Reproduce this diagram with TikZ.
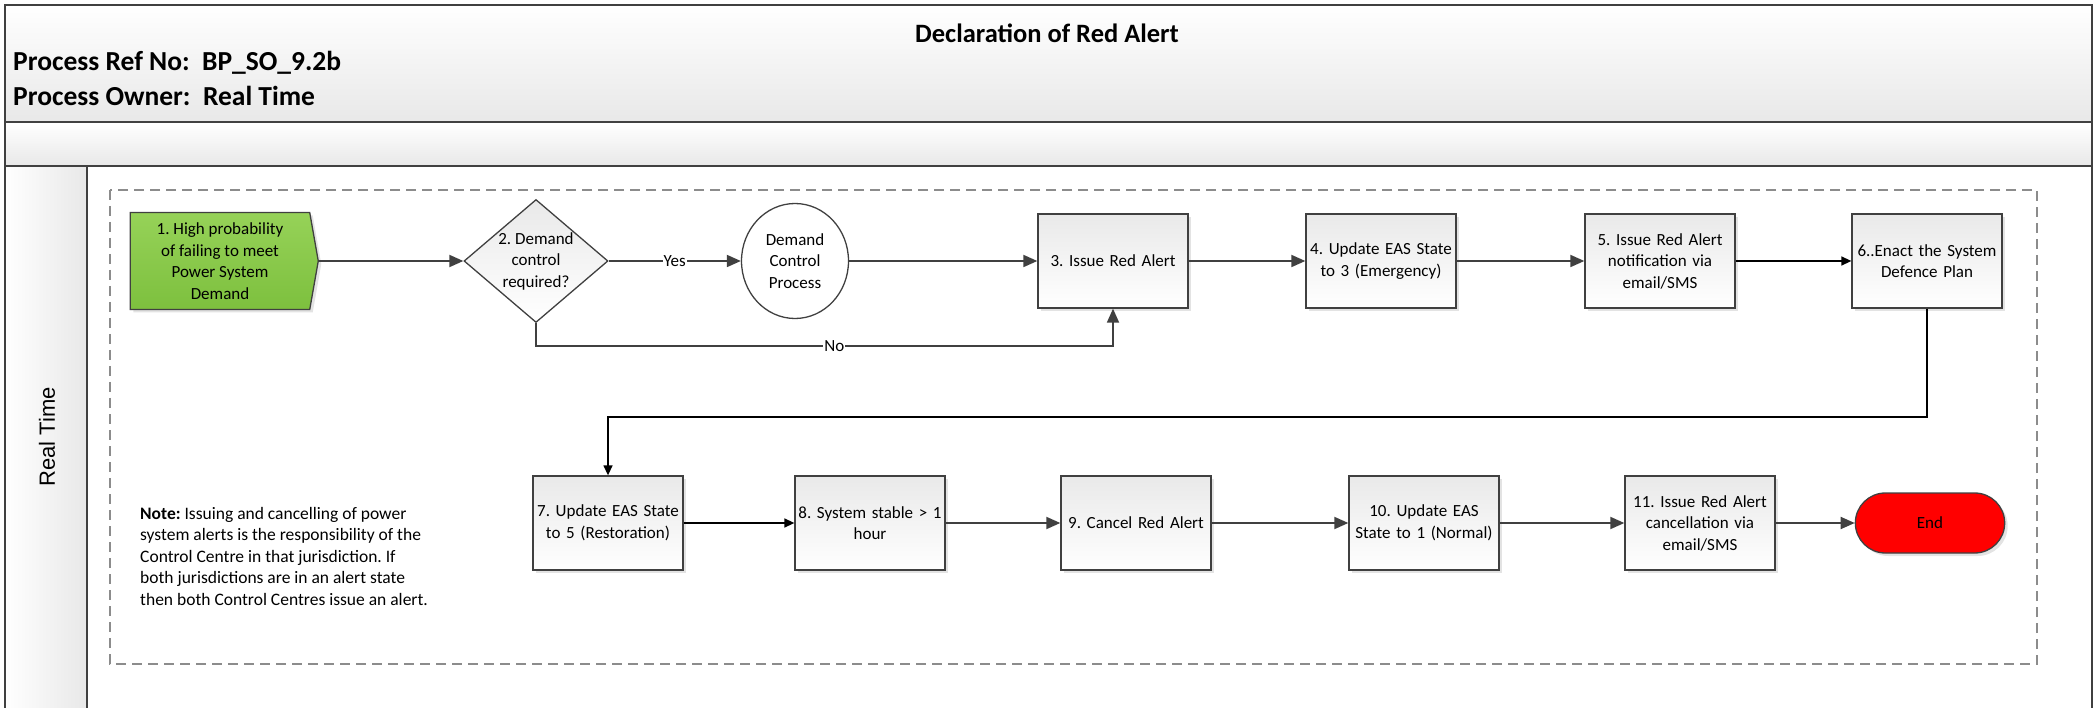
\documentclass[tikz,border=0pt]{standalone}
\usepackage{fontspec}
\setmainfont{Carlito}
\newfontfamily\arialfont{Liberation Sans}
\usetikzlibrary{shapes.geometric,shapes.symbols,shapes.misc,arrows.meta,shadows}
\definecolor{lineC}{HTML}{404040}
\definecolor{boxTop}{HTML}{E9E9E9}
\definecolor{greenTop}{HTML}{96D258}
\definecolor{greenBot}{HTML}{7DC03E}
\definecolor{dashC}{HTML}{8C8C8C}
\definecolor{endRed}{HTML}{FF0000}
\definecolor{hdrBot}{HTML}{E8E8E8}
\begin{document}
\frenchspacing
\begin{tikzpicture}[x=1pt,y=-1pt,
  every node/.style={font=\fontsize{17}{21.5}\selectfont},
  shad/.style={drop shadow={opacity=0.22,shadow xshift=3pt,shadow yshift=-3pt}},
  procbox/.style={rectangle,draw=lineC,line width=1.3pt,top color=boxTop,bottom color=white,
    minimum width=150pt,minimum height=94pt,text width=146pt,inner sep=2pt,align=center,shad},
  startbox/.style={signal,signal to=east,signal pointer angle=160,draw=lineC,line width=1.3pt,
    top color=greenTop,bottom color=greenBot,minimum width=188pt,minimum height=97pt,
    inner sep=2pt,align=center,shad},
  decbox/.style={diamond,aspect=1.17,draw=lineC,line width=1.3pt,top color=boxTop,bottom color=white,
    minimum width=144pt,minimum height=123pt,inner sep=0pt,align=center},
  subproc/.style={ellipse,draw=lineC,line width=1.3pt,fill=white,minimum width=107pt,
    minimum height=115pt,inner sep=0pt,align=center},
  endbox/.style={rounded rectangle,draw=lineC,line width=1.3pt,fill=endRed,minimum width=156pt,
    minimum height=60pt,shad},
  arr/.style={draw=lineC,line width=1.8pt,-{Triangle[length=14pt,width=12pt]}},
  arrb/.style={draw=black,line width=1.4pt,-{Triangle[length=10pt,width=9pt]}},
  lbl/.style={fill=white,inner sep=1pt},
  hdr/.style={font=\fontsize{27.5}{30}\selectfont\bfseries,anchor=west,inner sep=0pt}
]
\useasboundingbox (0,0) rectangle (2096,708);
% header and lane backgrounds
\fill[top color=white,bottom color=hdrBot] (5,5) rectangle (2092,122);
\fill[top color=white,bottom color=hdrBot] (5,122) rectangle (2092,166);
\fill[left color=white,right color=hdrBot] (5,166) rectangle (87,712);
\draw[lineC,line width=2pt] (5,712) -- (5,5) -- (2092,5) -- (2092,712);
\draw[lineC,line width=1.5pt] (5,122) -- (2092,122);
\draw[lineC,line width=1.5pt] (5,166) -- (2092,166);
\draw[lineC,line width=1.5pt] (87,166) -- (87,712);
\node[font=\fontsize{26.5}{30}\selectfont\bfseries] (title) at (1047,33) {Declaration of Red Alert};
\node[hdr] (ref) at (13,63) {Process Ref No:\ \ BP\_SO\_9.2b};
\node[hdr] (own) at (13,96) {Process Owner:\ \ Real Time};
\node[font=\fontsize{22}{26}\arialfont,rotate=90] (lane) at (47,437) {Real Time};
% dashed container
\draw[dashC,line width=1.5pt,dash pattern=on 10pt off 6pt] (110,190) rectangle (2037,664);
% row 1
\node[startbox] (n1) at (220,261) {1. High probability\\of failing to meet\\Power System\\Demand};
\node[decbox] (n2) at (536,261) {2. Demand\\control\\required?};
\node[subproc] (dcp) at (795,261) {Demand\\Control\\Process};
\node[procbox] (n3) at (1113,261) {3. Issue Red Alert};
\node[procbox] (n4) at (1381,261) {4. Update EAS State\\to 3 (Emergency)};
\node[procbox] (n5) at (1660,261) {5. Issue Red Alert\\notification via\\email/SMS};
\node[procbox] (n6) at (1927,261) {6..Enact the System\\Defence Plan};
% row 2
\node[procbox] (n7) at (608,523) {7. Update EAS State\\to 5 (Restoration)};
\node[procbox] (n8) at (870,523) {8. System stable > 1\\hour};
\node[procbox] (n9) at (1136,523) {9. Cancel Red Alert};
\node[procbox] (n10) at (1424,523) {10. Update EAS\\State to 1 (Normal)};
\node[procbox] (n11) at (1700,523) {11. Issue Red Alert\\cancellation via\\email/SMS};
\node[endbox] (end) at (1930,523) {End};
% note
\node[anchor=west,align=left,inner sep=0pt,font=\fontsize{17.5}{21.5}\selectfont] (note) at (140,556)
 {\textbf{Note:} Issuing and cancelling of power\\system alerts is the responsibility of the\\Control Centre in that jurisdiction. If\\both jurisdictions are in an alert state\\then both Control Centres issue an alert.};
% connectors
\coordinate (noY) at (0,346);
\coordinate (loopY) at (0,417);
\draw[arr] (n1) -- (n2);
\draw[arr] (n2) -- node[lbl] {Yes} (dcp);
\draw[arr] (dcp) -- (n3);
\draw[arr] (n2.south) -- (n2.south |- noY) -- node[lbl,pos=0.517] {No} (n3.south |- noY) -- (n3.south);
\draw[arr] (n3) -- (n4);
\draw[arr] (n4) -- (n5);
\draw[arrb] (n5) -- (n6);
\draw[arrb] (n6.south) -- (n6.south |- loopY) -- (n7.north |- loopY) -- (n7.north);
\draw[arrb] (n7) -- (n8);
\draw[arr] (n8) -- (n9);
\draw[arr] (n9) -- (n10);
\draw[arr] (n10) -- (n11);
\draw[arr] (n11) -- (end);
\end{tikzpicture}
\end{document}
